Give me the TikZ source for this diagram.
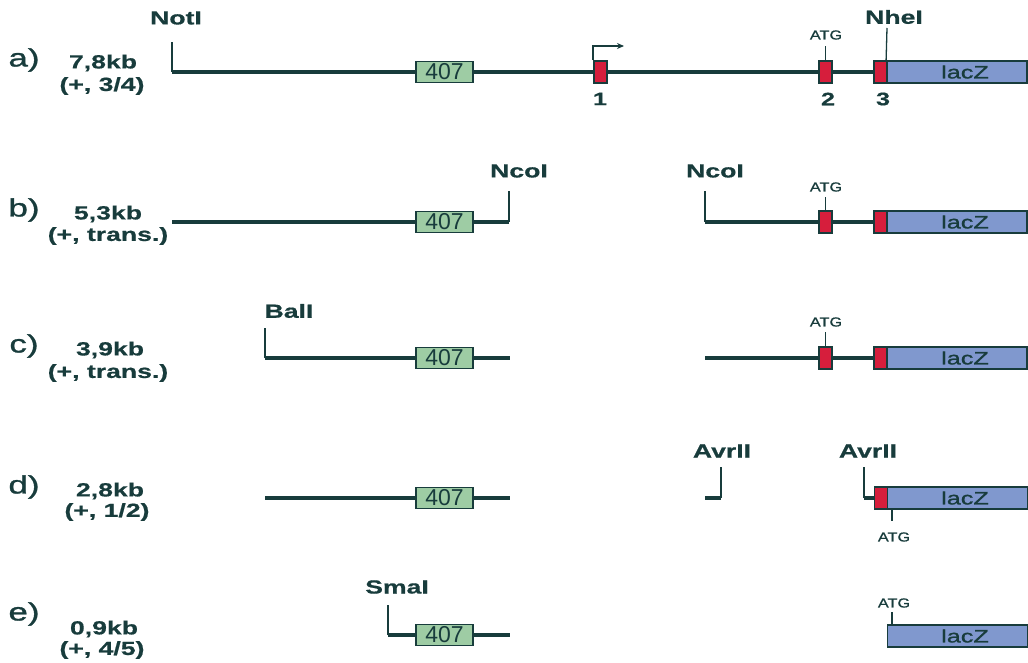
\documentclass[tikz,border=0pt]{standalone}
\usepackage{fontspec}
\setmainfont{Liberation Sans}
\newfontfamily\widef[FakeStretch=1.4,FakeBold=0.6]{Liberation Sans}
\newfontfamily\widem[FakeStretch=1.4,FakeBold=1.2]{Liberation Sans}
\newfontfamily\widea[FakeStretch=1.25,FakeBold=1.0]{Liberation Sans}
\usetikzlibrary{arrows.meta}
\definecolor{dk}{RGB}{24,60,60}
\definecolor{grn}{RGB}{158,204,164}
\definecolor{rd}{RGB}{214,30,60}
\definecolor{bl}{RGB}{128,152,206}
\newcommand\fsz[1]{\fontsize{#1}{#1}\selectfont}
\tikzset{
  dna/.style={draw=dk, line width=3.6pt},
  tickln/.style={draw=dk, line width=1.3pt},
  gbox/.style={draw=dk, line width=1.8pt, fill=grn, minimum width=57pt, minimum height=21pt, inner sep=0pt, font=\fsz{23}, text=dk},
  rbox/.style={draw=dk, line width=1.8pt, fill=rd, minimum width=13pt, minimum height=22pt, inner sep=0pt},
  lbox/.style={draw=dk, line width=1.8pt, fill=bl, minimum width=140pt, minimum height=22pt, inner sep=0pt},
  laclbl/.style={font=\widem\fsz{18}, text=dk, inner sep=0pt},
  site/.style={font=\widef\bfseries\fsz{19}, text=dk, inner sep=0pt},
  rowlbl/.style={font=\widem\fsz{25}, text=dk, inner sep=0pt},
  sizelbl/.style={font=\widef\bfseries\fsz{19}, text=dk, inner sep=0pt},
  atg/.style={font=\widea\fsz{13}, text=dk, inner sep=0pt},
  num/.style={font=\widef\bfseries\fsz{18}, text=dk, inner sep=0pt},
}
\begin{document}
\begin{tikzpicture}[x=1pt,y=-1pt]
\useasboundingbox (0,0) rectangle (1028,663);

% ---------- row a ----------
\node[rowlbl] (la) at (24,60) {a)};
\node[sizelbl] (sa1) at (103,63) {7,8kb};
\node[sizelbl] (sa2) at (102,86) {(+, 3/4)};
\coordinate (a0) at (172,72);
\coordinate (a0t) at (172,42);
\node[site] (notI) at (176,18) {NotI};
\node[gbox] (ga) at (444.5,72) {407};
\node[rbox] (r1a) at (600.5,72) {};
\node[rbox] (r2a) at (825.5,72) {};
\node[rbox] (r3a) at (880.5,72) {};
\node[lbox] (za) at (957,72) {};
\node[laclbl] (zla) at (965,72) {lacZ};
\draw[dna] (a0) -- (ga.west);
\draw[dna] (ga.east) -- (r1a.west);
\draw[dna] (r1a.east) -- (r2a.west);
\draw[dna] (r2a.east) -- (r3a.west);
\draw[tickln] (a0) -- (a0t);
\coordinate (prom) at (624,46);
\draw[tickln,-{Stealth[length=7pt,width=6pt]}] (r1a.north west) |- (prom);
\node[atg] (atga) at (826,35) {ATG};
\coordinate (atgat) at (825.5,46);
\draw[tickln] (r2a.north) -- (atgat);
\coordinate (nheb) at (887,28);
\draw[tickln] (za.north west) -- (nheb);
\node[site] (nheI) at (894,17) {NheI};
\node[num] (n1) at (600,99) {1};
\node[num] (n2) at (828,99) {2};
\node[num] (n3) at (883,99) {3};

% ---------- row b ----------
\node[rowlbl] (lb) at (24,210) {b)};
\node[sizelbl] (sb1) at (108,214) {5,3kb};
\node[sizelbl] (sb2) at (108,236) {(+, trans.)};
\coordinate (b0) at (172,222);
\node[gbox] (gb) at (444.5,222) {407};
\coordinate (b1) at (509,222);
\coordinate (b1t) at (509,191);
\node[site] (ncoI1) at (519,171) {NcoI};
\coordinate (b2) at (705,222);
\coordinate (b2t) at (705,191);
\node[site] (ncoI2) at (715,171) {NcoI};
\node[rbox] (r2b) at (825.5,222) {};
\node[rbox] (r3b) at (880.5,222) {};
\node[lbox] (zb) at (957,222) {};
\node[laclbl] (zlb) at (965,222) {lacZ};
\draw[dna] (b0) -- (gb.west);
\draw[dna] (gb.east) -- (b1);
\draw[tickln] (b1) -- (b1t);
\draw[dna] (b2) -- (r2b.west);
\draw[dna] (r2b.east) -- (r3b.west);
\draw[tickln] (b2) -- (b2t);
\node[atg] (atgb) at (826,187) {ATG};
\coordinate (atgbt) at (825.5,197);
\draw[tickln] (r2b.north) -- (atgbt);

% ---------- row c ----------
\node[rowlbl] (lc) at (24,346) {c)};
\node[sizelbl] (sc1) at (110,350) {3,9kb};
\node[sizelbl] (sc2) at (108,373) {(+, trans.)};
\coordinate (c0) at (265,358);
\coordinate (c0t) at (265,328);
\node[site] (balI) at (289,311) {BalI};
\node[gbox] (gc) at (444.5,358) {407};
\coordinate (c1) at (510,358);
\coordinate (c2) at (705,358);
\node[rbox] (r2c) at (825.5,358) {};
\node[rbox] (r3c) at (880.5,358) {};
\node[lbox] (zc) at (957,358) {};
\node[laclbl] (zlc) at (965,358) {lacZ};
\draw[tickln] (c0) -- (c0t);
\draw[dna] (c0) -- (gc.west);
\draw[dna] (gc.east) -- (c1);
\draw[dna] (c2) -- (r2c.west);
\draw[dna] (r2c.east) -- (r3c.west);
\node[atg] (atgc) at (826,322) {ATG};
\coordinate (atgct) at (825.5,332);
\draw[tickln] (r2c.north) -- (atgct);

% ---------- row d ----------
\node[rowlbl] (ld) at (24,487) {d)};
\node[sizelbl] (sd1) at (110,491) {2,8kb};
\node[sizelbl] (sd2) at (107,512) {(+, 1/2)};
\coordinate (d0) at (265,498);
\node[gbox] (gd) at (444.5,498) {407};
\coordinate (d1) at (510,498);
\draw[dna] (d0) -- (gd.west);
\draw[dna] (gd.east) -- (d1);
\coordinate (d2) at (705,498);
\coordinate (d3) at (721,498);
\coordinate (d3t) at (721,467);
\node[site] (avr1) at (722,451) {AvrII};
\draw[dna] (d2) -- (d3);
\draw[tickln] (d3) -- (d3t);
\coordinate (d4) at (864,498);
\coordinate (d4t) at (864,467);
\node[site] (avr2) at (868,451) {AvrII};
\node[rbox] (r3d) at (881,498) {};
\node[lbox] (zd) at (957.5,498) {};
\node[laclbl] (zld) at (965,498) {lacZ};
\draw[dna] (d4) -- (r3d.west);
\draw[tickln] (d4) -- (d4t);
\node[atg] (atgd) at (894,537) {ATG};
\coordinate (atgdb) at (892,509);
\coordinate (atgdt) at (892,521);
\draw[tickln] (atgdb) -- (atgdt);

% ---------- row e ----------
\node[rowlbl] (le) at (24,614) {e)};
\node[sizelbl] (se1) at (104,629) {0,9kb};
\node[sizelbl] (se2) at (102,650) {(+, 4/5)};
\coordinate (e0) at (388,635);
\coordinate (e0t) at (388,605);
\node[site] (smaI) at (397,587) {SmaI};
\node[gbox] (ge) at (444.5,635) {407};
\coordinate (e1) at (510,635);
\draw[tickln] (e0) -- (e0t);
\draw[dna] (e0) -- (ge.west);
\draw[dna] (ge.east) -- (e1);
\node[lbox] (ze) at (957.5,636) {};
\node[laclbl] (zle) at (965,636) {lacZ};
\node[atg] (atge) at (894,603) {ATG};
\coordinate (atgeb) at (892,625);
\coordinate (atget) at (892,612);
\draw[tickln] (atgeb) -- (atget);
\end{tikzpicture}
\end{document}
